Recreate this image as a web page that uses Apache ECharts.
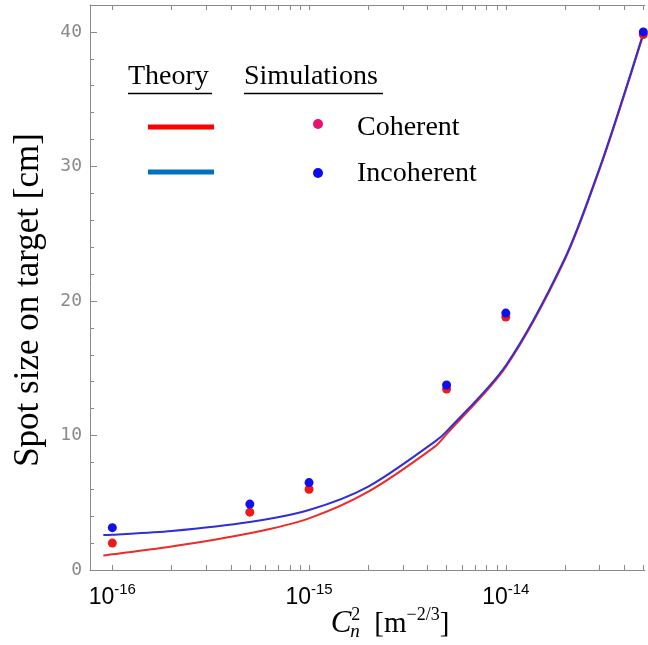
<!DOCTYPE html>
<html>
<head>
<meta charset="utf-8">
<script src="https://cdn.jsdelivr.net/npm/echarts@6/dist/echarts.min.js"></script>
<style>
  body { margin: 0; background: #fff; }
  #chart { width: 648px; height: 645px; }
</style>
</head>
<body>
<div id="chart"></div>
<script>
// simulation points (Cn^2 in m^-2/3, spot size in cm)
var simX = [1e-16, 5e-16, 1e-15, 5e-15, 1e-14, 5e-14];
var simCoherent = [2.0, 4.3, 6.0, 13.45, 18.8, 39.8];
var simIncoherent = [3.15, 4.9, 6.5, 13.75, 19.1, 40.0];

// theory curves
var theoryX = [9e-17, 1e-16, 2e-16, 5e-16, 1e-15, 2e-15, 4.36e-15, 5e-15, 1e-14, 2e-14, 3e-14, 4e-14, 5e-14];
var theoryCoherent = [1.07, 1.17, 1.74, 2.73, 3.84, 5.82, 9.17, 10.1, 15.1, 23.1, 29.8, 35.3, 39.8];
var theoryIncoherent = [2.6, 2.62, 2.9, 3.57, 4.46, 6.2, 9.54, 10.3, 15.2, 23.2, 29.9, 35.4, 39.9];

var xLabelValues = [1e-16, 1e-15, 1e-14];
var xMinorTicks = [];
[1e-16, 1e-15, 1e-14].forEach(function (d) {
  for (var k = 1; k <= 9; k++) {
    var v = d * k;
    if (v <= 5.1e-14) xMinorTicks.push(v);
  }
});

function pairs(xs, ys) {
  return xs.map(function (x, i) { return [x, ys[i]]; });
}

var chart = echarts.init(document.getElementById("chart"));

var axisGray = "#8a8a8a";
var xAxisBase = {
  type: "log",
  min: 7.7e-17,
  max: 5.1e-14,
  axisLine: { show: true, lineStyle: { color: axisGray, width: 1 } },
  splitLine: { show: false },
  axisTick: { inside: true, length: 5, customValues: xMinorTicks, lineStyle: { color: axisGray } }
};

chart.setOption({
  animation: false,
  grid: { left: 90, right: 3, top: 5, bottom: 75 },
  xAxis: [
    Object.assign({}, xAxisBase, {
      position: "bottom",
      axisLabel: {
        customValues: xLabelValues,
        margin: 12,
        formatter: function (v) {
          var e = Math.round(Math.log10(v));
          return "{b|10}{s|" + e + "}";
        },
        rich: {
          b: { fontSize: 23, fontFamily: "Liberation Sans", color: "#000" },
          s: { fontSize: 15, fontFamily: "Liberation Sans", color: "#000", padding: [0, 0, 17, 0] }
        }
      }
    }),
    Object.assign({}, xAxisBase, {
      position: "top",
      axisLabel: { show: false }
    })
  ],
  yAxis: [{
    type: "value",
    min: 0,
    max: 42,
    interval: 10,
    axisLine: { show: true, lineStyle: { color: axisGray } },
    axisTick: { inside: true, length: 7, lineStyle: { color: axisGray } },
    minorTick: { show: true, splitNumber: 5, length: 4, lineStyle: { color: axisGray } },
    splitLine: { show: false },
    axisLabel: {
      showMaxLabel: false,
      margin: 8,
      fontSize: 18,
      fontFamily: "DejaVu Sans Mono",
      color: "#8a8a8a"
    }
  }],
  series: [
    {
      name: "Theory coherent",
      type: "line",
      data: pairs(theoryX, theoryCoherent),
      smooth: 0.3,
      showSymbol: false,
      lineStyle: { color: "#ee2a2a", width: 2 },
      z: 2
    },
    {
      name: "Theory incoherent",
      type: "line",
      data: pairs(theoryX, theoryIncoherent),
      smooth: 0.3,
      showSymbol: false,
      lineStyle: { color: "#2f2fd6", width: 2 },
      z: 3
    },
    {
      name: "Coherent",
      type: "scatter",
      data: pairs(simX, simCoherent),
      symbolSize: 9,
      itemStyle: { color: "#f01818", opacity: 1 },
      z: 4
    },
    {
      name: "Incoherent",
      type: "scatter",
      data: pairs(simX, simIncoherent),
      symbolSize: 9,
      itemStyle: { color: "#1010ee", opacity: 1 },
      z: 5
    }
  ],
  graphic: [
    // y axis title
    {
      type: "text",
      x: 29, y: 300,
      rotation: Math.PI / 2,
      style: {
        text: "Spot size on target [cm]",
        font: "35px 'Liberation Serif'",
        fill: "#000",
        align: "center",
        verticalAlign: "middle"
      }
    },
    // x axis title
    {
      type: "text",
      x: 390, y: 624,
      style: {
        text: "{c|C}{sup|2}{sub|n}{t|  [m}{sup|−2/3}{t|]}",
        align: "center",
        verticalAlign: "middle",
        rich: {
          c: { font: "italic 31px 'Liberation Serif'", fill: "#000" },
          t: { font: "29px 'Liberation Serif'", fill: "#000" },
          sup: { font: "18px 'Liberation Serif'", fill: "#000", padding: [0, 0, 17, 0] },
          sub: { font: "italic 19px 'Liberation Serif'", fill: "#000", padding: [15, 0, 0, -10] }
        }
      }
    },
    // legend headers
    {
      type: "text", x: 128, y: 91,
      style: { text: "Theory", font: "28px 'Liberation Serif'", fill: "#000", verticalAlign: "bottom" }
    },
    { type: "line", shape: { x1: 128, y1: 93.5, x2: 212, y2: 93.5 }, style: { stroke: "#000", lineWidth: 1.5 } },
    {
      type: "text", x: 244, y: 91,
      style: { text: "Simulations", font: "28px 'Liberation Serif'", fill: "#000", verticalAlign: "bottom" }
    },
    { type: "line", shape: { x1: 244, y1: 93.5, x2: 383, y2: 93.5 }, style: { stroke: "#000", lineWidth: 1.5 } },
    // legend swatches
    { type: "line", shape: { x1: 148, y1: 127, x2: 214, y2: 127 }, style: { stroke: "#ff0000", lineWidth: 5 } },
    { type: "line", shape: { x1: 148, y1: 172, x2: 214, y2: 172 }, style: { stroke: "#0070c0", lineWidth: 5 } },
    { type: "circle", shape: { cx: 318, cy: 124, r: 5 }, style: { fill: "#e8136c" } },
    { type: "circle", shape: { cx: 318, cy: 173, r: 5 }, style: { fill: "#0b0bf0" } },
    {
      type: "text", x: 357, y: 128,
      style: { text: "Coherent", font: "28px 'Liberation Serif'", fill: "#000", verticalAlign: "middle" }
    },
    {
      type: "text", x: 357, y: 174,
      style: { text: "Incoherent", font: "28px 'Liberation Serif'", fill: "#000", verticalAlign: "middle" }
    }
  ]
});
</script>
</body>
</html>
